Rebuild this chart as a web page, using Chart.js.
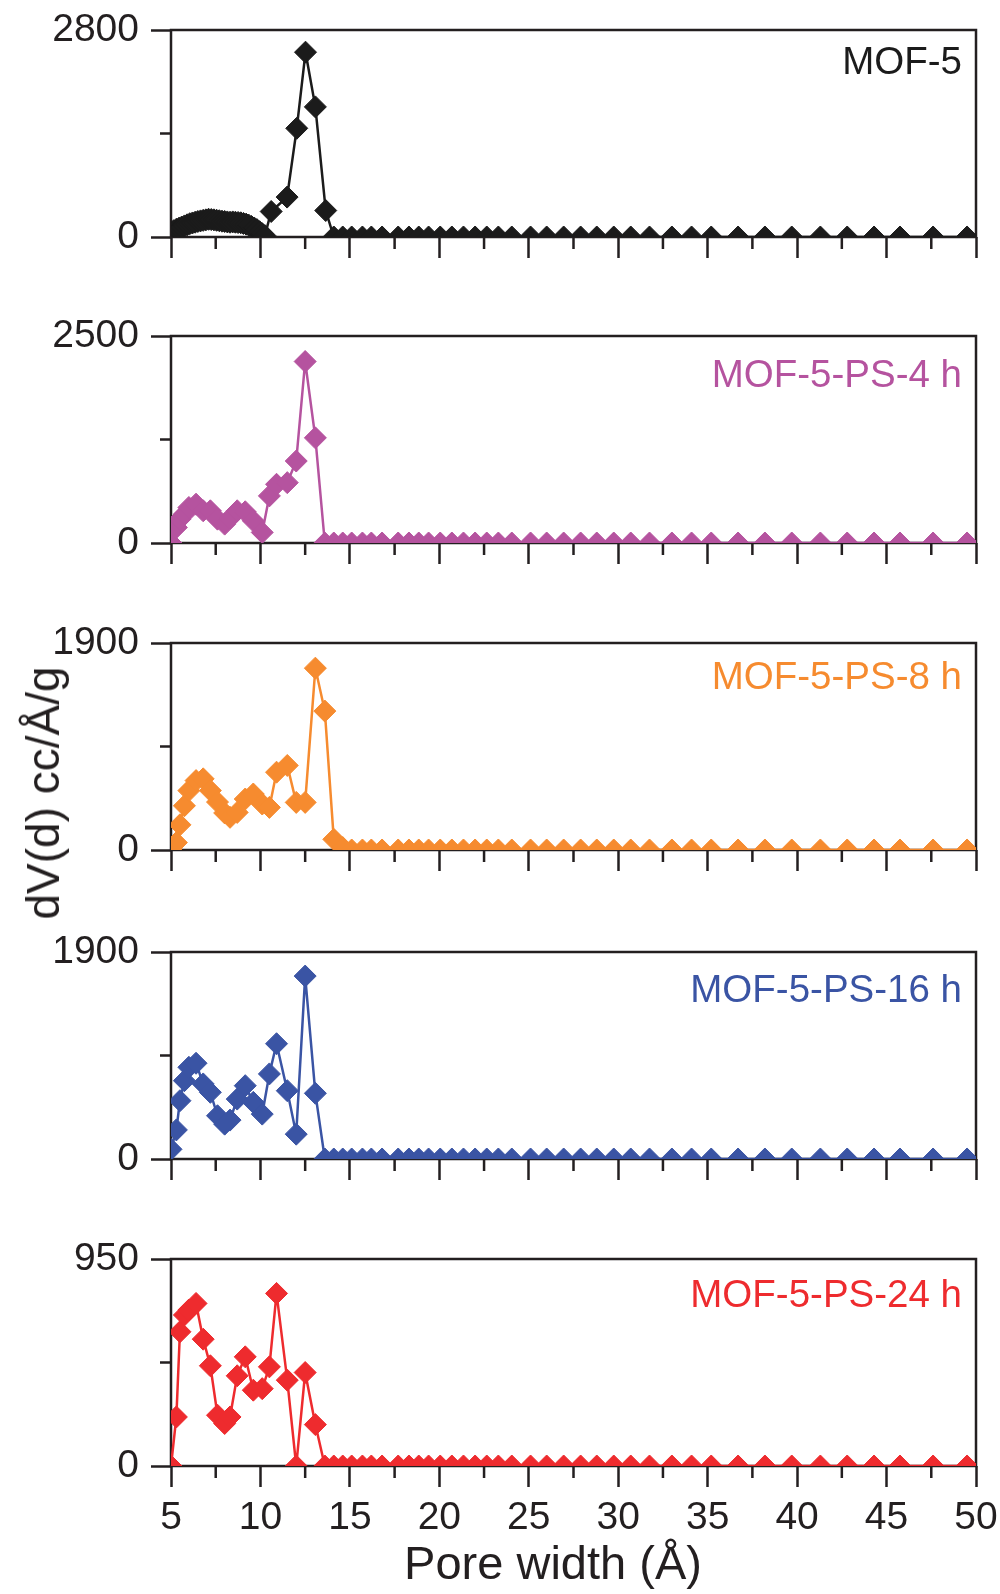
<!DOCTYPE html>
<html>
<head>
<meta charset="utf-8">
<script src="https://cdn.jsdelivr.net/npm/chart.js@4.4.0/dist/chart.umd.min.js"></script>
<style>
  html, body { margin: 0; padding: 0; background: #fff; overflow: hidden; }
  body { width: 1000px; height: 1594px; position: relative; }
  .panel { position: absolute; left: 0; width: 1000px; }
  #ytitle {
    position: absolute; left: 43px; top: 793px;
    transform: translate(-50%, -50%) rotate(-90deg);
    font: 46px "Liberation Sans", Arial, sans-serif; color: #231f20; white-space: nowrap;
  }
</style>
</head>
<body>
<div class="panel" style="top:5px;height:257px"><canvas id="c1"></canvas></div>
<div class="panel" style="top:311px;height:257px"><canvas id="c2"></canvas></div>
<div class="panel" style="top:618px;height:257px"><canvas id="c3"></canvas></div>
<div class="panel" style="top:927px;height:257px"><canvas id="c4"></canvas></div>
<div class="panel" style="top:1234px;height:360px"><canvas id="c5"></canvas></div>
<div id="ytitle">dV(d) cc/Å/g</div>
<script>
// pore widths (Å) shared by the PS samples
const xPS = [5.0, 5.3, 5.5, 5.75, 6.0, 6.4, 6.8, 7.2, 7.6, 8.0, 8.3, 8.7, 9.15, 9.6, 10.1, 10.5, 10.9, 11.5, 12.0, 12.5, 13.07, 13.6,
  14.1, 14.6, 15.1, 15.7, 16.2, 16.8, 17.7, 18.3, 18.85, 19.4, 20.05, 20.7, 21.35, 22.0, 22.65, 23.3, 24.05, 25.1,
  26.0, 26.95, 27.9, 28.8, 29.75, 30.7, 31.75, 33.0, 34.1, 35.2, 36.7, 38.2, 39.7, 41.3, 42.8, 44.3, 45.75, 47.6, 49.5];

// MOF-5 has a denser grid at small widths
const xMOF5 = [5.0, 5.15, 5.3, 5.45, 5.6, 5.75, 5.9, 6.05, 6.2, 6.35, 6.5, 6.65, 6.8, 6.95, 7.1, 7.25, 7.4, 7.55, 7.7, 7.85,
  8.0, 8.15, 8.3, 8.45, 8.6, 8.75, 8.9, 9.05, 9.2, 9.35, 9.5, 9.65, 9.8, 9.95, 10.1, 10.25,
  10.6, 11.49, 12.03, 12.52, 13.07, 13.65,
  14.1, 14.6, 15.1, 15.7, 16.2, 16.8, 17.7, 18.3, 18.85, 19.4, 20.05, 20.7, 21.35, 22.0, 22.65, 23.3, 24.05, 25.1,
  26.0, 26.95, 27.9, 28.8, 29.75, 30.7, 31.75, 33.0, 34.1, 35.2, 36.7, 38.2, 39.7, 41.3, 42.8, 44.3, 45.75, 47.6, 49.5];

const yMOF5 = [60, 85, 105, 120, 135, 150, 165, 180, 190, 200, 210, 218, 225, 232, 240, 236, 232, 226, 220, 214,
  210, 204, 200, 204, 200, 196, 192, 184, 174, 160, 142, 122, 100, 72, 45, 18,
  345, 540, 1470, 2500, 1760, 358,
  0, 0, 0, 0, 0, 0, 0, 0, 0, 0, 0, 0, 0, 0, 0, 0, 0, 0,
  0, 0, 0, 0, 0, 0, 0, 0, 0, 0, 0, 0, 0, 0, 0, 0, 0, 0, 0];

const yPS4 = [0, 188, 288, 349, 429, 469, 389, 389, 288, 228, 300, 389, 377, 268, 128, 569, 709, 729, 990, 2192, 1270, 0,
  0, 0, 0, 0, 0, 0, 0, 0, 0, 0, 0, 0, 0, 0, 0, 0, 0, 0,
  0, 0, 0, 0, 0, 0, 0, 0, 0, 0, 0, 0, 0, 0, 0, 0, 0, 0, 0];

const yPS8 = [10, 68, 231, 406, 545, 637, 653, 545, 440, 340, 300, 345, 468, 514, 422, 391, 714, 776, 437, 437, 1669, 1275,
  98, 22, 0, 0, 0, 0, 0, 0, 0, 0, 0, 0, 0, 0, 0, 0, 0, 0,
  0, 0, 0, 0, 0, 0, 0, 0, 0, 0, 0, 0, 0, 0, 0, 0, 0, 0, 0];

const yPS16 = [89, 267, 535, 719, 842, 879, 689, 612, 397, 320, 357, 550, 673, 520, 412, 781, 1058, 627, 228, 1679, 603, 0,
  0, 0, 0, 0, 0, 0, 0, 0, 0, 0, 0, 0, 0, 0, 0, 0, 0, 0,
  0, 0, 0, 0, 0, 0, 0, 0, 0, 0, 0, 0, 0, 0, 0, 0, 0, 0, 0];

const yPS24 = [0, 225, 616, 693, 716, 746, 582, 460, 233, 195, 225, 414, 501, 348, 355, 455, 792, 394, 0, 429, 190, 0,
  0, 0, 0, 0, 0, 0, 0, 0, 0, 0, 0, 0, 0, 0, 0, 0, 0, 0,
  0, 0, 0, 0, 0, 0, 0, 0, 0, 0, 0, 0, 0, 0, 0, 0, 0, 0, 0];

const labels = ["MOF-5", "MOF-5-PS-4 h", "MOF-5-PS-8 h", "MOF-5-PS-16 h", "MOF-5-PS-24 h"];
const colors = ["#1b1b1b", "#b5539f", "#f68b2f", "#3a54a4", "#ee2b2e"];
const yMax = [2800, 2500, 1900, 1900, 950];
const xMinorTicks = [7.5, 12.5, 17.5, 22.5, 27.5, 32.5, 37.5, 42.5, 47.5];
const xTitle = "Pore width (Å)";

const AXIS = "#231f20";
const FONT = '"Liberation Sans", Arial, sans-serif';
const labelDy = [33, 40, 35, 39, 37]; // label offset below each panel's top edge

const framePlugin = {
  id: "frame",
  beforeDatasetsDraw(chart, args, opts) {
    const { ctx, chartArea: a, scales } = chart;
    ctx.save();
    ctx.strokeStyle = AXIS;
    ctx.lineWidth = 2.5;
    ctx.strokeRect(a.left, a.top, a.right - a.left, a.bottom - a.top);
    // minor ticks
    ctx.beginPath();
    xMinorTicks.forEach((v) => {
      const px = scales.x.getPixelForValue(v);
      ctx.moveTo(px, a.bottom);
      ctx.lineTo(px, a.bottom + 12);
    });
    const py = scales.y.getPixelForValue(opts.max / 2);
    ctx.moveTo(a.left, py);
    ctx.lineTo(a.left - 11, py);
    ctx.stroke();
    ctx.restore();
  },
  afterDatasetsDraw(chart, args, opts) {
    const { ctx, chartArea: a } = chart;
    ctx.save();
    ctx.font = "38.5px " + FONT;
    ctx.fillStyle = opts.color;
    ctx.textAlign = "right";
    ctx.textBaseline = "middle";
    ctx.fillText(opts.label, a.right - 14, a.top + opts.dy);
    if (opts.showTitle) {
      ctx.font = "47px " + FONT;
      ctx.fillStyle = AXIS;
      ctx.textAlign = "center";
      ctx.fillText(xTitle, 553, a.bottom + 100);
    }
    ctx.restore();
  },
};

function makePanel(id, xs, ys, i, last) {
  const pts = xs.map((x, k) => ({ x: x, y: ys[k] }));
  return new Chart(document.getElementById(id), {
    type: "line",
    data: {
      datasets: [
        {
          data: pts,
          borderColor: colors[i],
          backgroundColor: colors[i],
          borderWidth: 2.5,
          pointStyle: "rectRot",
          pointRadius: 11,
          pointBorderWidth: 1,
          tension: 0,
          clip: 0,
        },
      ],
    },
    options: {
      responsive: true,
      maintainAspectRatio: false,
      animation: false,
      layout: { padding: { top: 25, right: 24, left: 0, bottom: 0 } },
      plugins: {
        legend: { display: false },
        tooltip: { enabled: false },
        frame: { label: labels[i], color: colors[i], max: yMax[i], dy: labelDy[i], showTitle: last },
      },
      scales: {
        x: {
          type: "linear",
          min: 5,
          max: 50,
          border: { display: false },
          grid: { drawOnChartArea: false, tickLength: 21, tickColor: AXIS, tickWidth: 2.5 },
          ticks: { display: last, stepSize: 5, padding: 8, color: AXIS, font: { family: FONT, size: 39 } },
          afterFit(scale) {
            scale.height = last ? 128 : 25;
            scale.paddingLeft = 0;
            scale.paddingRight = 0;
          },
        },
        y: {
          min: 0,
          max: yMax[i],
          border: { display: false },
          grid: { drawOnChartArea: false, tickLength: 20, tickColor: AXIS, tickWidth: 2.5 },
          ticks: {
            padding: 12,
            color: AXIS,
            font: { family: FONT, size: 39 },
            callback: (v) => String(v),
          },
          afterBuildTicks(scale) {
            scale.ticks = [{ value: 0 }, { value: yMax[i] }];
          },
          afterFit(scale) {
            scale.width = 171;
            scale.paddingTop = 0;
            scale.paddingBottom = 0;
          },
        },
      },
    },
    plugins: [framePlugin],
  });
}

makePanel("c1", xMOF5, yMOF5, 0, false);
makePanel("c2", xPS, yPS4, 1, false);
makePanel("c3", xPS, yPS8, 2, false);
makePanel("c4", xPS, yPS16, 3, false);
makePanel("c5", xPS, yPS24, 4, true);
</script>
</body>
</html>
